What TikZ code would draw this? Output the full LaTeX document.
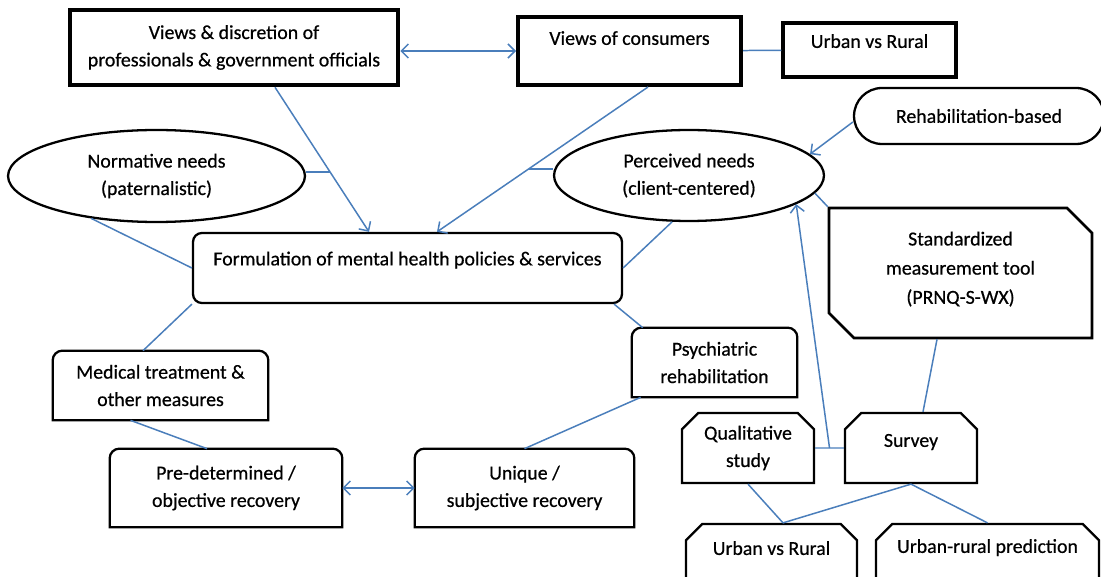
\documentclass[tikz,border=0pt]{standalone}
\usepackage{fontspec}
\setmainfont{Carlito}[FakeBold=0.6]
\usepackage{tikz}
\usetikzlibrary{shapes.geometric, shapes.misc, arrows.meta}
\definecolor{linkblue}{HTML}{4A7EBB}

\begin{document}
\begin{tikzpicture}[x=0.02cm, y=-0.02cm,
  every node/.style={font=\fontsize{11.3}{15.6}\selectfont, align=center, inner sep=0pt},
  link/.style={draw=linkblue, line width=0.85pt},
  >={Straight Barb[length=4pt, width=8pt]},
  heavybox/.style={rectangle, draw, line width=#1},
  oval/.style={ellipse, draw, line width=1.3pt},
  pill/.style={rounded rectangle, draw, line width=1.3pt},
  softbox/.style={rectangle, draw, line width=1.3pt, rounded corners=5pt},
  tabbox/.style={rectangle},
  snipbox/.style={chamfered rectangle, chamfered rectangle corners={north west, north east},
    chamfered rectangle xsep=6pt, draw, line width=1.3pt},
  notchbox/.style={chamfered rectangle, chamfered rectangle corners={north east, south west},
    chamfered rectangle xsep=11pt, draw, line width=1.5pt},
  topline/.style={text height=8pt, text depth=#1}]

\useasboundingbox (0,0) rectangle (1101,577);
\clip (0,0) rectangle (1101,577);

% top row
\node[heavybox=2.6pt, minimum width=6.56cm, minimum height=1.5cm] (prof) at (234,47.5) {Views \& discretion of\\professionals \& government officials};
\node[heavybox=2.3pt, topline=15pt, minimum width=4.46cm, minimum height=1.36cm] (cons) at (629.5,51) {Views of consumers};
\node[heavybox=1.9pt, topline=10.4pt, minimum width=3.46cm, minimum height=1.08cm] (urb1) at (869.5,50) {Urban vs Rural};
\node[pill, minimum width=5cm, minimum height=1.12cm] (rehab) at (979,116) {Rehabilitation-based};

% needs
\node[oval, minimum width=5.94cm, minimum height=1.84cm] (norm) at (156.5,176) {Normative needs\\(paternalistic)};
\node[oval, minimum width=5.4cm, minimum height=1.82cm] (perc) at (689,175.5) {Perceived needs\\(client-centered)};

\node[softbox, topline=11pt, minimum width=8.58cm, minimum height=1.4cm] (form) at (407.5,268) {Formulation of mental health policies \& services};
\node[notchbox, minimum width=5.26cm, minimum height=2.6cm] (std) at (960.5,273) {Standardized\\[1pt]measurement tool\\[1pt](PRNQ-S-WX)\\[-9.6pt]};

% recovery side
\node[tabbox, minimum width=3.3cm, minimum height=1.38cm] (psych) at (714.5,362.5) {Psychiatric\\rehabilitation};
\node[tabbox, minimum width=4.3cm, minimum height=1.38cm] (med) at (160.5,385.5) {Medical treatment \&\\other measures};
\node[tabbox, minimum width=4.64cm, minimum height=1.56cm] (obj) at (226,488) {Pre-determined /\\objective recovery};
\node[tabbox, minimum width=4.38cm, minimum height=1.56cm] (subj) at (524.5,488) {Unique /\\subjective recovery};

% methods
\node[snipbox, minimum width=2.64cm, minimum height=1.4cm] (qual) at (748,448) {Qualitative\\study};
\node[snipbox, topline=9.3pt, minimum width=2.64cm, minimum height=1.4cm] (surv) at (911,448) {Survey};
\node[snipbox, topline=13.8pt, minimum width=3.42cm, minimum height=1.44cm] (urb2) at (771.5,560) {Urban vs Rural};
\node[snipbox, topline=16.1pt, minimum width=4.46cm, minimum height=1.44cm] (urpred) at (987.5,560) {Urban-rural prediction};

% boxes with rounded top corners only
\foreach \n in {med, obj, subj, psych}
  \draw[line width=1.3pt] (\n.south west) -- ([yshift=-5.5pt]\n.north west)
    arc[start angle=180, end angle=90, radius=5.5pt] -- ([xshift=-5.5pt]\n.north east)
    arc[start angle=90, end angle=0, radius=5.5pt] -- (\n.south east) -- cycle;

\draw[link, <->] (prof.east |- cons) -- (cons);
\draw[link] (cons) -- (urb1);
\draw[link, ->] ([xshift=0.82cm]prof.south) -- coordinate[pos=0.585] (pj) ([xshift=-0.77cm]form.north);
\draw[link] (pj -| norm.east) -- (pj);
\draw[link, ->] ([xshift=0.37cm]cons.south) -- coordinate[pos=0.565] (cj) ([xshift=0.59cm]form.north);
\draw[link] (cj) -- (cj -| perc.west);
\draw[link] (norm.213) -- (form.west);
\draw[link] (perc.250) -- (form.east);
\draw[link] (form.south west) -- ([xshift=-0.35cm]med.north);
\draw[link] ([xshift=-0.18cm]form.south east) -- ([xshift=0.22cm]psych.north west);
\draw[link] ([xshift=0.18cm]psych.south west) -- (subj.north);
\draw[link] ([xshift=-0.6cm]med.south) -- ([xshift=-0.38cm]obj.north);
\draw[link, <->] (obj) -- (subj);

\draw[link, ->] ([yshift=-0.12cm]rehab.west) -- (perc.10);
\draw[link] (perc.352) -- (std.north -| std.west);
\draw[link] (qual) -- coordinate[midway] (qj) (surv);
\draw[link, ->] (qj) -- (perc.345);
\draw[link] ([xshift=-0.47cm]std.south) -- ([xshift=0.24cm]surv.north);
\draw[link] (qual.south) -- ([xshift=0.23cm]urb2.north);
\draw[link] (surv.south) -- ([xshift=0.23cm]urb2.north);
\draw[link] (surv.south) -- (urpred.north);
\end{tikzpicture}
\end{document}
